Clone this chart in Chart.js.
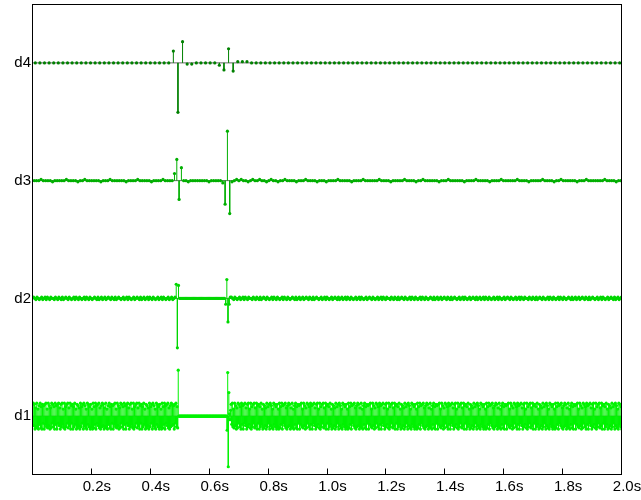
<!DOCTYPE html>
<html><head><meta charset="utf-8">
<script src="https://cdn.jsdelivr.net/npm/chart.js@4.4.0/dist/chart.umd.min.js"></script>
<style>html,body{margin:0;padding:0;background:#fff}canvas{display:block}</style>
</head><body>
<canvas id="c" width="641" height="500"></canvas>
<script>
// ---- data (values in hundredths of the level spacing) ----
const levelNames = ['d1','d2','d3','d4'];
const levelPositions = [1,2,3,4];
const xTickValues = [0.2,0.4,0.6,0.8,1.0,1.2,1.4,1.6,1.8,2.0];
const xTickLabels = ['0.2s','0.4s','0.6s','0.8s','1.0s','1.2s','1.4s','1.6s','1.8s','2.0s'];
const duration = 2.0;

const d4Values = [
0,0,0,0,0,0,0,0,0,0,0,0,0,0,0,0,0,0,0,0,
0,0,0,0,0,0,0,0,0,0,
10,-42,18,-1,-1,0,0,0,0,0,
-2,-6,12,-7,1,1,1,
0,0,0,0,0,0,0,0,0,0,0,0,0,0,0,0,0,0,0,0,
0,0,0,0,0,0,0,0,0,0,0,0,0,0,0,0,0,0,0,0,
0,0,0,0,0,0,0,0,0,0,0,0,0,0,0,0,0,0,0,0,
0,0,0,0,0,0,0,0,0,0,0,0,0,0,0,0,0,0,0,0,
0
];

const d3Values = [
0,0,0,1,0,0,0,0,-1,0,0,0,0,0,1,0,0,0,0,-1,
0,0,1,0,0,0,0,0,0,-1,0,0,0,1,0,0,0,0,0,0,
-1,0,0,0,0,1,0,0,0,0,0,-1,0,0,0,0,1,0,0,0,
0,
6,18,-16,11,
0,0,-1,0,0,0,0,0,0,0,0,-1,0,0,0,0,0,
-2,-20,42,-28,-1,
0,1,0,1,0,0,-1,0,1,0,0,1,0,0,-1,0,1,0,0,-1,
0,0,1,0,0,0,0,-1,0,0,0,1,0,0,0,0,-1,0,0,0,
-1,0,0,0,0,1,0,0,0,0,0,-1,0,0,0,0,1,0,0,0,
0,0,0,1,0,0,0,0,-1,0,0,0,0,0,1,0,0,0,0,-1,
0,0,1,0,0,0,0,0,0,-1,0,0,0,1,0,0,0,0,0,0,
-1,0,0,0,0,1,0,0,0,0,0,-1,0,0,0,0,1,0,0,0,
0,0,0,1,0,0,0,0,-1,0,0,0,0,0,1,0,0,0,0,-1,
0,0,1,0,0,0,0,0,0,-1,0,0,0,1,0,0,0,0,0,0,
0,1,0,0,0,0,-1,0,0
];

const d2Values = [
1,0,-1,1,0,-1,0,1,-1,0,1,-1,1,0,-1,1,0,0,-1,1,
0,-1,1,0,-1,1,-1,0,1,0,-1,1,0,-1,0,1,-1,1,0,-1,
1,0,-1,0,1,-1,1,0,-1,1,0,-1,0,1,0,-1,1,-1,0,1,
-1,0,1,-1,0,1,0,-1,1,0,-1,1,-1,0,1,0,-1,0,1,-1,
0,1,-1,1,0,-1,0,1,-1,0,1,0,-1,1,-1,0,1,-1,0,1,
-1,1,0,-1,1,0,-1,0,1,-1,0,1,-1,1,0,-1,0,1,-1,0,
1,-1,0,1,
12,-42,11,
0,0,0,0,0,0,0,0,0,0,0,0,0,0,0,0,0,0,0,0,
0,0,0,0,0,0,0,0,0,0,0,0,0,0,0,0,0,0,0,0,
-5,16,-20,-5,1,
1,0,-1,1,0,-1,0,1,-1,0,1,-1,1,0,-1,1,0,0,-1,1,
0,-1,1,0,-1,1,-1,0,1,0,-1,1,0,-1,0,1,-1,1,0,-1,
1,0,-1,0,1,-1,1,0,-1,1,0,-1,0,1,0,-1,1,-1,0,1,
-1,0,1,-1,0,1,0,-1,1,0,-1,1,-1,0,1,0,-1,0,1,-1,
0,1,-1,1,0,-1,0,1,-1,0,1,0,-1,1,-1,0,1,-1,0,1,
-1,1,0,-1,1,0,-1,0,1,-1,0,1,-1,1,0,-1,0,1,-1,0,
1,0,-1,1,0,-1,0,1,-1,0,1,-1,1,0,-1,1,0,0,-1,1,
0,-1,1,0,-1,1,-1,0,1,0,-1,1,0,-1,0,1,-1,1,0,-1,
1,0,-1,0,1,-1,1,0,-1,1,0,-1,0,1,0,-1,1,-1,0,1,
-1,0,1,-1,0,1,0,-1,1,0,-1,1,-1,0,1,0,-1,0,1,-1,
0,1,-1,1,0,-1,0,1,-1,0,1,0,-1,1,-1,0,1,-1,0,1,
-1,1,0,-1,1,0,-1,0,1,-1,0,1,-1,1,0,-1,0,1,-1,0,
1,0,-1,1,0,-1,0,1,-1,0,1,-1,1,0,-1,1,0,0,-1,1,
0,-1,1,0,-1,1,-1,0,1,0,-1,1,0,-1,0,1,-1,1,0,-1,
1,0,-1,0,1,-1,1,0,-1,1,0,-1,0,1,0,-1,1,-1,0,1,
-1,0,1,-1,0,1,0,-1,1,0,-1,1,-1,0,1,0,-1,0,1,-1,
0,1,-1,1,0,-1,0,1,-1,0,1,0,-1,1,-1,0,1,-1,0,1
];

const d1Values = [
11,-8,10,-11,7,-9,11,-10,6,-11,9,-7,11,-10,8,-11,10,-6,9,-11,
10,-7,11,-9,6,-10,11,-8,9,-11,7,-10,11,-6,10,-9,8,-11,11,-7,
9,-11,10,-6,11,-8,7,-11,10,-9,11,-7,6,-10,11,-11,8,-9,10,-6,
11,-10,7,-8,11,-11,9,-6,10,-11,8,-9,11,-7,6,-11,10,-10,9,-8,
7,-11,11,-9,8,-6,10,-11,11,-8,9,-10,6,-11,11,-7,10,-9,8,-11,
10,-9,6,-11,11,-10,8,-7,11,-11,9,-6,10,-8,11,-10,7,-11,9,-9,
11,-8,10,-11,7,-9,11,-10,6,-11,9,-7,11,-10,8,-11,10,-6,9,-11,
10,-7,11,-9,6,-10,11,-8,9,-11,7,-10,11,-6,10,-9,8,-11,11,-7,
9,-11,10,-6,11,-8,7,-11,10,-9,11,-7,6,-10,11,-11,8,-9,10,-6,
11,-10,7,-8,11,-11,9,-6,10,-11,8,-9,11,-7,6,-11,10,-10,9,-8,
7,-11,11,-9,8,-6,10,-11,11,-8,9,-10,6,-11,11,-7,10,-9,8,-11,
10,-9,6,-11,11,-10,8,-7,11,-11,9,-6,10,-8,11,-10,7,-11,9,-9,
11,-8,10,-7,9,-11,10,-6,11,-9,8,-10,
39,
0,0,0,0,0,0,0,0,0,0,0,0,0,0,0,0,0,0,0,0,
0,0,0,0,0,0,0,0,0,0,0,0,0,0,0,0,0,0,0,0,
0,0,0,0,0,0,0,0,0,0,0,0,0,0,0,0,0,0,0,0,
0,0,0,0,0,0,0,0,0,0,0,0,0,0,0,0,0,0,0,0,
0,0,0,0,
-12,37,-43,20,
2,-3,5,
10,-7,11,-9,6,-10,11,-8,9,-11,7,-10,11,-6,10,-9,8,-11,11,-7,
9,-11,10,-6,11,-8,7,-11,10,-9,11,-7,6,-10,11,-11,8,-9,10,-6,
11,-10,7,-8,11,-11,9,-6,10,-11,8,-9,11,-7,6,-11,10,-10,9,-8,
7,-11,11,-9,8,-6,10,-11,11,-8,9,-10,6,-11,11,-7,10,-9,8,-11,
10,-9,6,-11,11,-10,8,-7,11,-11,9,-6,10,-8,11,-10,7,-11,9,-9,
11,-8,10,-11,7,-9,11,-10,6,-11,9,-7,11,-10,8,-11,10,-6,9,-11,
10,-7,11,-9,6,-10,11,-8,9,-11,7,-10,11,-6,10,-9,8,-11,11,-7,
9,-11,10,-6,11,-8,7,-11,10,-9,11,-7,6,-10,11,-11,8,-9,10,-6,
11,-10,7,-8,11,-11,9,-6,10,-11,8,-9,11,-7,6,-11,10,-10,9,-8,
7,-11,11,-9,8,-6,10,-11,11,-8,9,-10,6,-11,11,-7,10,-9,8,-11,
10,-9,6,-11,11,-10,8,-7,11,-11,9,-6,10,-8,11,-10,7,-11,9,-9,
11,-8,10,-11,7,-9,11,-10,6,-11,9,-7,11,-10,8,-11,10,-6,9,-11,
10,-7,11,-9,6,-10,11,-8,9,-11,7,-10,11,-6,10,-9,8,-11,11,-7,
9,-11,10,-6,11,-8,7,-11,10,-9,11,-7,6,-10,11,-11,8,-9,10,-6,
11,-10,7,-8,11,-11,9,-6,10,-11,8,-9,11,-7,6,-11,10,-10,9,-8,
7,-11,11,-9,8,-6,10,-11,11,-8,9,-10,6,-11,11,-7,10,-9,8,-11,
10,-9,6,-11,11,-10,8,-7,11,-11,9,-6,10,-8,11,-10,7,-11,9,-9,
11,-8,10,-11,7,-9,11,-10,6,-11,9,-7,11,-10,8,-11,10,-6,9,-11,
10,-7,11,-9,6,-10,11,-8,9,-11,7,-10,11,-6,10,-9,8,-11,11,-7,
9,-11,10,-6,11,-8,7,-11,10,-9,11,-7,6,-10,11,-11,8,-9,10,-6,
11,-10,7,-8,11,-11,9,-6,10,-11,8,-9,11,-7,6,-11,10,-10,9,-8,
7,-11,11,-9,8,-6,10,-11,11,-8,9,-10,6,-11,11,-7,10,-9,8,-11,
10,-9,6,-11,11,-10,8,-7,11,-11,9,-6,10,-8,11,-10,7,-11,9,-9,
11,-8,10,-11,7,-9,11,-10,6,-11,9,-7,11,-10,8,-11,10,-6,9,-11,
10,-7,11,-9,6,-10,11,-8,9,-11,7,-10,11,-6,10,-9,8,-11,11,-7,
9,-11,10,-6,11,-8,7,-11,10,-9,11,-7,6,-10,11,-11,8,-9,10,-6,
11,-10,7,-8,11,-11,9,-6,10,-11,8,-9,11,-7,6,-11,10,-10,9,-8,
7,-11,11,-9,8,-6,10,-11,11,-8,9,-10,6,-11,11,-7,10,-9,8,-11,
10,-9,6,-11,11,-10,8,-7,11,-11,9,-6,10,-8,11,-10,7,-11,9,-9,
11,-8,10,-11,7,-9,11,-10,6,-11,9,-7,11,-10,8,-11,10,-6,9,-11,
10,-7,11,-9,6,-10,11,-8,9,-11,7,-10,11,-6,10,-9,8,-11,11,-7,
9,-11,10,-6,11,-8,7,-11,10,-9,11,-7,6,-10,11,-11,8,-9,10,-6,
11,-10,7,-8,11,-11,9,-6,10,-11,8,-9,11,-7,6,-11,10,-10,9,-8,
7,-11,11,-9,8,-6,10,-11,11,-8,9,-10,6,-11,11,-7,10,-9,8,-11
];

// ---- styles ----
const seriesList = [
  {values: d1Values, level: levelPositions[0], color: 'rgb(0,242,0)'},
  {values: d2Values, level: levelPositions[1], color: 'rgb(0,215,0)'},
  {values: d3Values, level: levelPositions[2], color: 'rgb(0,175,0)'},
  {values: d4Values, level: levelPositions[3], color: 'rgb(0,128,0)'}
];
const unitScale = 0.01;

const datasets = [];
seriesList.forEach(s => {
  const n = s.values.length;
  const dt = duration / n;
  const stemPts = [], dotPts = [];
  s.values.forEach((v, i) => {
    const t = (i + 0.5) * dt;
    const y = s.level + v * unitScale;
    stemPts.push({x: t, y: s.level}, {x: t, y: y}, {x: t, y: null});
    dotPts.push({x: t, y: y});
  });
  datasets.push({type: 'line', data: [{x: 0, y: s.level}, {x: duration, y: s.level}],
    borderColor: '#666', borderWidth: 1, pointRadius: 0, order: 3});
  datasets.push({type: 'line', data: stemPts, borderColor: s.color, borderWidth: 1,
    pointRadius: 0, spanGaps: false, order: 2});
  datasets.push({type: 'scatter', data: dotPts, backgroundColor: s.color, borderWidth: 0,
    pointRadius: 1.6, order: 1});
});

const framePlugin = {
  id: 'frame',
  afterDraw(chart) {
    const {ctx, chartArea: a, scales: {x}} = chart;
    ctx.save();
    ctx.strokeStyle = '#000';
    ctx.lineWidth = 1;
    const l = Math.round(a.left) - 0.5, r = Math.round(a.right) - 0.5;
    const t = Math.round(a.top) + 0.5, b = Math.round(a.bottom) - 0.5;
    ctx.strokeRect(l, t, r - l, b - t);
    ctx.beginPath();
    x.ticks.forEach(tk => {
      const px = Math.round(x.getPixelForValue(tk.value)) - 0.5;
      ctx.moveTo(px, b); ctx.lineTo(px, b - 6);
    });
    ctx.stroke();
    ctx.restore();
  }
};

const font = {family: "'Liberation Sans', Arial, sans-serif", size: 15};

new Chart(document.getElementById('c'), {
  type: 'scatter',
  data: {datasets},
  options: {
    responsive: false,
    animation: false,
    events: [],
    layout: {padding: {top: 4, right: 19, left: 0, bottom: 0}},
    plugins: {legend: {display: false}, tooltip: {enabled: false}},
    scales: {
      x: {
        type: 'linear', min: 0, max: duration,
        grid: {display: false, drawTicks: false},
        border: {display: false},
        afterBuildTicks: sc => { sc.ticks = xTickValues.map(v => ({value: v})); },
        afterFit: sc => { sc.height = 25; sc.paddingLeft = 0; sc.paddingRight = 0; },
        ticks: {
          autoSkip: false, maxRotation: 0, padding: 3, labelOffset: 5,
          color: '#000', font,
          callback: (v, i) => xTickLabels[i]
        }
      },
      y: {
        type: 'linear', min: 0.5, max: 4.5,
        grid: {display: false, drawTicks: false},
        border: {display: false},
        afterBuildTicks: sc => { sc.ticks = levelPositions.map(v => ({value: v})); },
        afterFit: sc => { sc.width = 33; sc.paddingTop = 0; sc.paddingBottom = 0; },
        ticks: {
          autoSkip: false, padding: 2, color: '#000', font,
          callback: (v, i) => levelNames[i]
        }
      }
    }
  },
  plugins: [framePlugin]
});
</script>
</body></html>
